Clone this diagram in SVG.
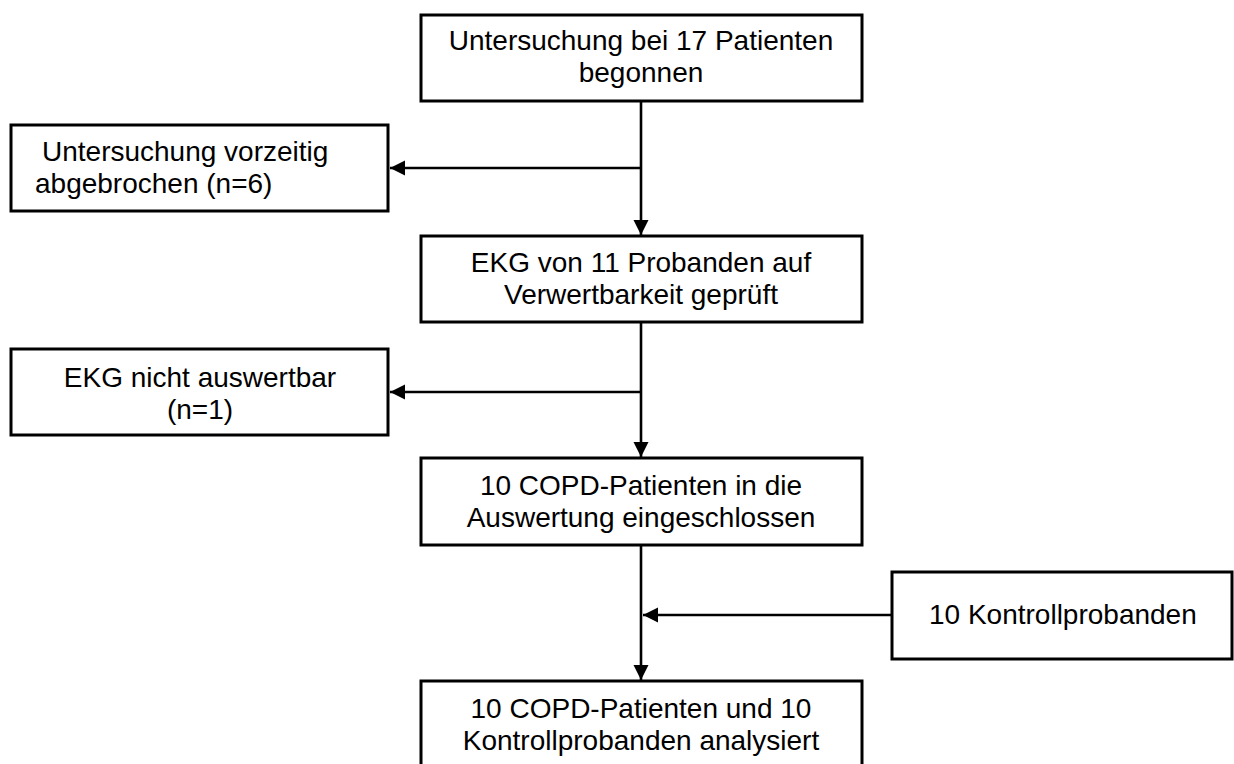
<svg xmlns="http://www.w3.org/2000/svg" width="1234" height="764" viewBox="0 0 1234 764">
<style>
.box{fill:#fff;stroke:#000;stroke-width:3}
.t{font-family:"Liberation Sans",Arial,sans-serif;font-size:28px;fill:#000}
.c{text-anchor:middle}
.ln{stroke:#000;stroke-width:2.6;fill:none}
</style>
<defs>
<marker id="ah" markerUnits="userSpaceOnUse" markerWidth="16" markerHeight="16" refX="15" refY="7.5" orient="auto">
<path d="M0,0 L15,7.5 L0,15 Z" fill="#000"/>
</marker>
</defs>
<rect width="1234" height="764" fill="#fff"/>
<g id="connectors">
<line class="ln" x1="641" y1="101" x2="641" y2="235" marker-end="url(#ah)"/>
<line class="ln" x1="641" y1="168" x2="390" y2="168" marker-end="url(#ah)"/>
<line class="ln" x1="641" y1="322" x2="641" y2="457" marker-end="url(#ah)"/>
<line class="ln" x1="641" y1="392" x2="390" y2="392" marker-end="url(#ah)"/>
<line class="ln" x1="641" y1="545" x2="641" y2="680" marker-end="url(#ah)"/>
<line class="ln" x1="892" y1="615" x2="643" y2="615" marker-end="url(#ah)"/>
</g>
<g id="n1">
<rect class="box" x="421" y="15" width="441" height="86"/>
<text class="t c" x="641" y="50">Untersuchung bei 17 Patienten</text>
<text class="t c" x="641" y="82">begonnen</text>
</g>
<g id="n2">
<rect class="box" x="11" y="125" width="377" height="86"/>
<text class="t" x="42" y="161">Untersuchung vorzeitig</text>
<text class="t" x="35" y="193">abgebrochen (n=6)</text>
</g>
<g id="n3">
<rect class="box" x="421" y="236" width="441" height="86"/>
<text class="t c" x="641" y="272">EKG von 11 Probanden auf</text>
<text class="t c" x="641" y="304">Verwertbarkeit geprüft</text>
</g>
<g id="n4">
<rect class="box" x="11" y="349" width="377" height="86"/>
<text class="t c" x="200" y="387">EKG nicht auswertbar</text>
<text class="t c" x="200" y="419">(n=1)</text>
</g>
<g id="n5">
<rect class="box" x="421" y="458" width="441" height="87"/>
<text class="t c" x="641" y="495">10 COPD-Patienten in die</text>
<text class="t c" x="641" y="527">Auswertung eingeschlossen</text>
</g>
<g id="n6">
<rect class="box" x="892" y="572" width="340" height="87"/>
<text class="t" x="929" y="624">10 Kontrollprobanden</text>
</g>
<g id="n7">
<rect class="box" x="421" y="681" width="441" height="90"/>
<text class="t c" x="641" y="718">10 COPD-Patienten und 10</text>
<text class="t c" x="641" y="750">Kontrollprobanden analysiert</text>
</g>
</svg>
